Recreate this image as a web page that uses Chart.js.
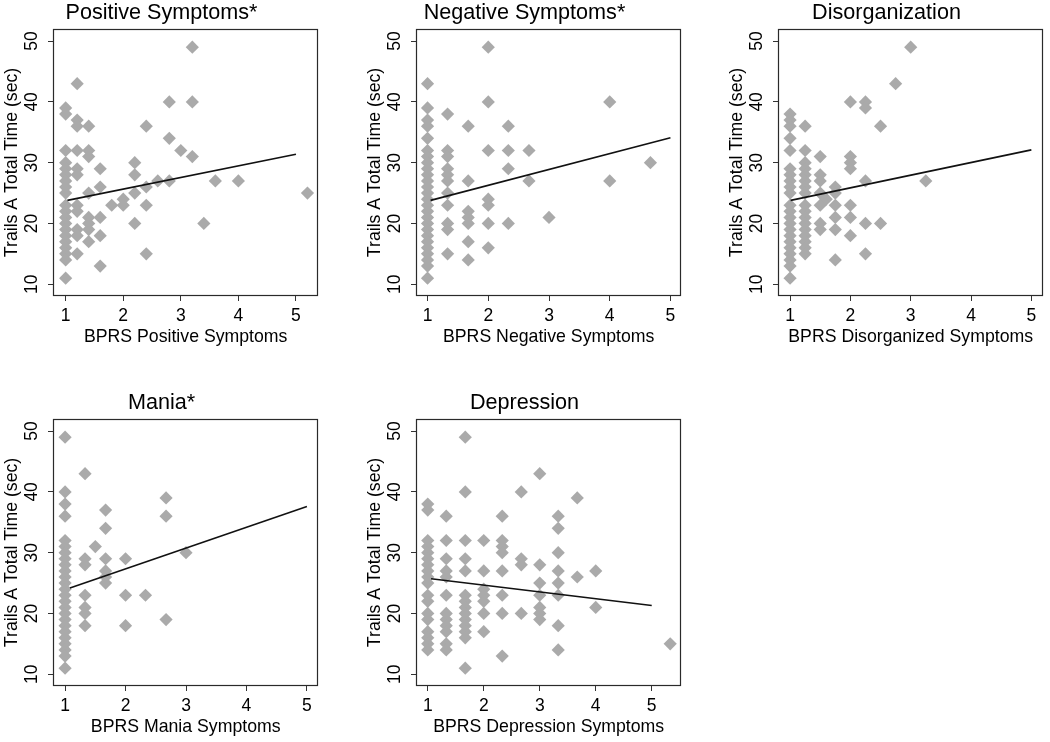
<!DOCTYPE html>
<html>
<head>
<meta charset="utf-8">
<script src="https://cdn.jsdelivr.net/npm/chart.js@4.4.1/dist/chart.umd.min.js"></script>
<style>
  html, body { margin: 0; padding: 0; background: #fff; }
  body { width: 1050px; height: 742px; position: relative; overflow: hidden; }
  canvas { position: absolute; }
</style>
</head>
<body>
<canvas id="positiveChart" width="325" height="350" style="left:0px;top:0px"></canvas>
<canvas id="negativeChart" width="325" height="350" style="left:363px;top:0px"></canvas>
<canvas id="disorgChart" width="325" height="350" style="left:725px;top:0px"></canvas>
<canvas id="maniaChart" width="325" height="350" style="left:0px;top:390px"></canvas>
<canvas id="depressionChart" width="325" height="350" style="left:363px;top:390px"></canvas>
<script>
// tick labels shared by every panel
const xTicks = [1, 2, 3, 4, 5];
const yTicks = [10, 20, 30, 40, 50];

// each panel: BPRS score levels, and the Trails A times (sec) seen at each level
const positiveLevels = [1, 1.2, 1.4, 1.6, 1.8, 2.0, 2.2, 2.4, 2.6, 2.8, 3.0, 3.2, 3.4, 3.6, 4.0, 5.2];
const positiveTimes = [
  [39, 38, 32, 30, 29, 28, 27, 26, 25, 23, 22, 21, 20, 19, 18, 17, 16, 15, 14, 11],
  [43, 37, 36, 32, 29, 28, 23, 22, 19, 18, 15],
  [36, 32, 31, 25, 21, 20, 19, 17],
  [29, 26, 21, 18, 13],
  [23],
  [24, 23],
  [30, 28, 25, 20],
  [36, 26, 23, 15],
  [27],
  [40, 34, 27],
  [32],
  [49, 40, 31],
  [20],
  [27],
  [27],
  [25]
];
const positiveFit = [[1.03, 23.8], [5, 31.4]];

const negativeLevels = [1, 1.33, 1.67, 2, 2.33, 2.67, 3, 4, 4.67];
const negativeTimes = [
  [43, 39, 37, 36, 34, 32, 31, 30, 29, 28, 27, 26, 25, 24, 23, 22, 21, 20, 19, 18, 17, 16, 15, 14, 13, 11],
  [38, 32, 31, 29, 28, 27, 25, 23, 20, 19, 15],
  [36, 27, 22, 21, 20, 17, 14],
  [49, 40, 32, 24, 23, 20, 16],
  [36, 32, 29, 20],
  [32, 27],
  [21],
  [40, 27],
  [30]
];
const negativeFit = [[1.05, 23.8], [5, 34.1]];

const disorgLevels = [1, 1.25, 1.5, 1.6, 1.75, 2, 2.25, 2.5, 2.75, 3, 3.25];
const disorgTimes = [
  [38, 37, 36, 34, 32, 29, 28, 27, 26, 25, 23, 22, 21, 20, 19, 18, 17, 16, 15, 14, 13, 11],
  [36, 32, 30, 29, 28, 27, 26, 25, 23, 22, 21, 20, 19, 18, 17, 16, 15],
  [31, 28, 27, 25, 23, 20, 19],
  [24],
  [26, 25, 23, 21, 19, 14],
  [40, 31, 30, 29, 23, 21, 18],
  [40, 39, 27, 20, 15],
  [36, 20],
  [43],
  [49],
  [27]
];
const disorgFit = [[1.01, 23.8], [5, 32.1]];

const maniaLevels = [1, 1.33, 1.5, 1.67, 2, 2.33, 2.67, 3];
const maniaTimes = [
  [49, 40, 38, 36, 32, 31, 30, 29, 28, 27, 26, 25, 24, 23, 22, 21, 20, 19, 18, 17, 16, 15, 14, 13, 11],
  [43, 29, 28, 23, 21, 20, 18],
  [31],
  [37, 34, 29, 27, 26, 25],
  [29, 23, 18],
  [23],
  [39, 36, 19],
  [30]
];
const maniaFit = [[1.08, 24.2], [5, 37.6]];

const depressionLevels = [1, 1.33, 1.67, 2, 2.33, 2.67, 3, 3.33, 3.67, 4, 5.33];
const depressionTimes = [
  [38, 37, 32, 31, 30, 29, 28, 27, 26, 25, 23, 22, 20, 19, 17, 16, 15, 14],
  [36, 32, 29, 27, 26, 23, 20, 19, 18, 17, 15, 14],
  [49, 40, 32, 29, 27, 23, 22, 21, 20, 19, 18, 17, 16, 11],
  [32, 27, 24, 23, 22, 20, 17],
  [36, 32, 31, 30, 27, 23, 20, 13],
  [40, 29, 28, 20],
  [43, 28, 25, 23, 21, 20, 19],
  [36, 34, 30, 27, 25, 23, 18, 14],
  [39, 26],
  [27, 21],
  [15]
];
const depressionFit = [[1.06, 25.7], [5, 21.3]];

Chart.defaults.font.family = "'Liberation Sans', Arial, Helvetica, sans-serif";
Chart.defaults.color = '#000';

// plot region frame (Stata-style box)
const framePlugin = {
  id: 'frame',
  afterDatasetsDraw(chart) {
    const a = chart.chartArea;
    const ctx = chart.ctx;
    ctx.save();
    ctx.strokeStyle = '#2a2a2a';
    ctx.lineWidth = 1.2;
    const l = Math.round(a.left) + 0.5, t = Math.round(a.top) + 0.5;
    const r = Math.round(a.right) - 0.5, b = Math.round(a.bottom) - 0.5;
    ctx.strokeRect(l, t, r - l, b - t);
    ctx.restore();
  }
};

function makePanel(id, title, xLabel, levels, times, fit, xMin, xMax) {
  const points = [];
  levels.forEach((lv, i) => {
    times[i].forEach(t => points.push({ x: lv, y: t }));
  });

  return new Chart(document.getElementById(id), {
    type: 'scatter',
    data: {
      datasets: [
        {
          type: 'line',
          data: fit.map(p => ({ x: p[0], y: p[1] })),
          borderColor: '#111',
          borderWidth: 1.6,
          pointRadius: 0,
          fill: false,
          order: 0
        },
        {
          data: points,
          pointStyle: 'rectRot',
          pointRadius: 6.6,
          backgroundColor: '#aaaaaa',
          borderWidth: 0,
          order: 1
        }
      ]
    },
    options: {
      responsive: false,
      animation: false,
      devicePixelRatio: 1,
      layout: { padding: { left: 0, right: 2, top: 0, bottom: 0 } },
      plugins: {
        legend: { display: false },
        tooltip: { enabled: false },
        title: {
          display: true,
          text: title,
          color: '#000',
          font: { size: 21.6, weight: 'normal', lineHeight: 1.2 },
          padding: { top: 0, bottom: 3 }
        }
      },
      scales: {
        x: {
          type: 'linear',
          min: xMin,
          max: xMax,
          afterBuildTicks: s => { s.ticks = xTicks.map(v => ({ value: v })); },
          afterFit: s => { s.height = 54; },
          ticks: { font: { size: 17.5 }, padding: 5, maxRotation: 0, color: '#000' },
          grid: { drawOnChartArea: false, tickLength: 5, color: '#333' },
          border: { display: false },
          title: { display: true, text: xLabel, color: '#000', font: { size: 17.7 }, padding: { top: 0, bottom: 2 } }
        },
        y: {
          type: 'linear',
          min: 8.07,
          max: 52,
          afterBuildTicks: s => { s.ticks = yTicks.map(v => ({ value: v })); },
          afterFit: s => { s.width = 53; },
          ticks: { font: { size: 17.5 }, padding: 6, minRotation: 90, maxRotation: 90, crossAlign: 'center', color: '#000' },
          grid: { drawOnChartArea: false, tickLength: 5, color: '#333' },
          border: { display: false },
          title: { display: true, text: 'Trails A Total Time (sec)', color: '#000', font: { size: 17.7 }, padding: { top: 1, bottom: 0 } }
        }
      }
    },
    plugins: [framePlugin]
  });
}

makePanel('positiveChart', 'Positive Symptoms*', 'BPRS Positive Symptoms', positiveLevels, positiveTimes, positiveFit, 0.78, 5.39);
makePanel('negativeChart', 'Negative Symptoms*', 'BPRS Negative Symptoms', negativeLevels, negativeTimes, negativeFit, 0.81, 5.18);
makePanel('disorgChart', 'Disorganization', 'BPRS Disorganized Symptoms', disorgLevels, disorgTimes, disorgFit, 0.8, 5.2);
makePanel('maniaChart', 'Mania*', 'BPRS Mania Symptoms', maniaLevels, maniaTimes, maniaFit, 0.8, 5.19);
makePanel('depressionChart', 'Depression', 'BPRS Depression Symptoms', depressionLevels, depressionTimes, depressionFit, 0.79, 5.53);
</script>
</body>
</html>
